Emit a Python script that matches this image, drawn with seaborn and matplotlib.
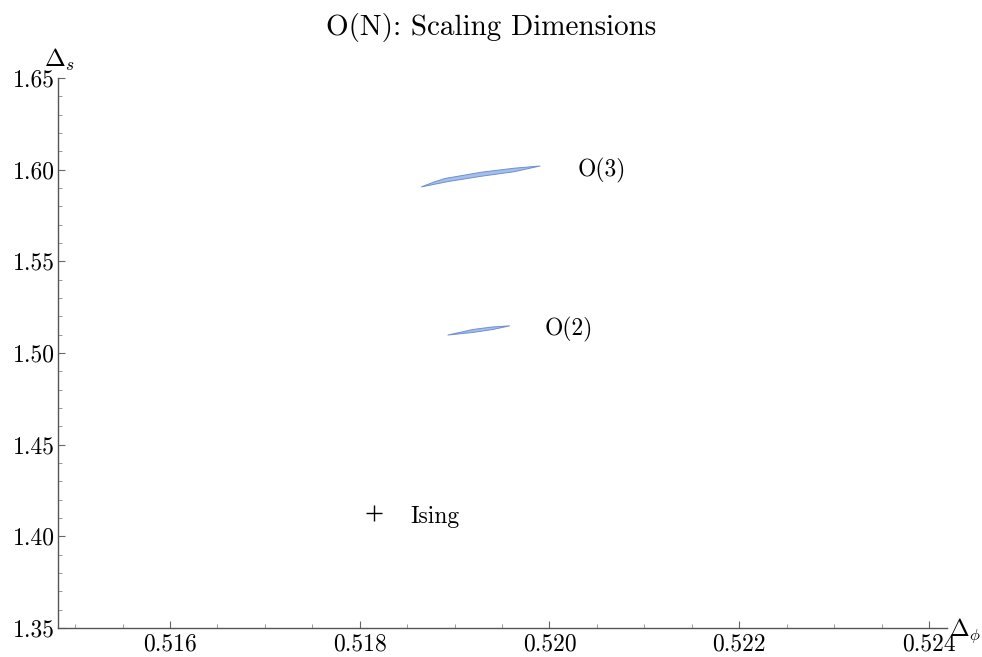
import matplotlib
matplotlib.use("Agg")
import matplotlib.pyplot as plt
import seaborn as sns
import pandas as pd
from matplotlib.ticker import MultipleLocator, FixedLocator, FixedFormatter

# Allowed regions (island outlines) in the (Delta_phi, Delta_s) plane
o3_upper_x = [0.51865, 0.51878, 0.51890, 0.51928, 0.51963, 0.51990]
o3_upper_y = [1.5906, 1.5932, 1.5952, 1.5986, 1.6008, 1.6020]
o3_lower_x = [0.51865, 0.51893, 0.51928, 0.51963, 0.51990]
o3_lower_y = [1.5906, 1.5935, 1.5964, 1.5989, 1.6020]

o2_upper_x = [0.51893, 0.51919, 0.51940, 0.51958]
o2_upper_y = [1.5098, 1.5128, 1.5142, 1.5148]
o2_lower_x = [0.51893, 0.51919, 0.51940, 0.51958]
o2_lower_y = [1.5098, 1.5112, 1.5128, 1.5148]

# Ising point
ising_x = [0.518149]
ising_y = [1.412625]

# Labels
label_names = ["O(3)", "O(2)", "Ising"]
label_x = [0.52030, 0.51995, 0.51853]
label_y = [1.5993, 1.5131, 1.4106]

x_ticks = [0.516, 0.518, 0.520, 0.522, 0.524]
x_tick_labels = ["0.516", "0.518", "0.520", "0.522", "0.524"]
y_ticks = [1.35, 1.40, 1.45, 1.50, 1.55, 1.60, 1.65]
y_tick_labels = ["1.35", "1.40", "1.45", "1.50", "1.55", "1.60", "1.65"]

sns.set_theme(style="ticks")
plt.rcParams["font.family"] = ["cmr10", "DejaVu Serif"]
plt.rcParams["mathtext.fontset"] = "cm"
plt.rcParams["axes.unicode_minus"] = False

fig = plt.figure(figsize=(9.82, 6.57), dpi=100)
W, H = 982, 657
ax = fig.add_axes([58 / W, 1 - 628 / H, (947 - 58) / W, (628 - 78) / H])

fill_c = "#a4bfec"
edge_c = "#6f90cf"

for ux, uy, lx, ly in [
    (o3_upper_x, o3_upper_y, o3_lower_x, o3_lower_y),
    (o2_upper_x, o2_upper_y, o2_lower_x, o2_lower_y),
]:
    px = list(ux) + list(lx[::-1])
    py = list(uy) + list(ly[::-1])
    ax.fill(px, py, facecolor=fill_c, edgecolor=edge_c, linewidth=0.7,
            joinstyle="round", zorder=3)

ising_df = pd.DataFrame({"x": ising_x, "y": ising_y})
sns.scatterplot(data=ising_df, x="x", y="y", marker="+", s=130, color="black",
                linewidth=1.0, ax=ax, zorder=4, legend=False)

for name, tx, ty in zip(label_names, label_x, label_y):
    ax.text(tx, ty, name, ha="left", va="center", fontsize=17, color="black")

ax.set_xlim(0.51482, 0.52419)
ax.set_ylim(1.35, 1.65)

ax.xaxis.set_major_locator(FixedLocator(x_ticks))
ax.xaxis.set_major_formatter(FixedFormatter(x_tick_labels))
ax.xaxis.set_minor_locator(MultipleLocator(0.0005))
ax.yaxis.set_major_locator(FixedLocator(y_ticks))
ax.yaxis.set_major_formatter(FixedFormatter(y_tick_labels))
ax.yaxis.set_minor_locator(MultipleLocator(0.01))

for side in ["top", "right"]:
    ax.spines[side].set_visible(False)
for side in ["left", "bottom"]:
    ax.spines[side].set_color("#555555")
    ax.spines[side].set_linewidth(1.0)

ax.tick_params(which="major", direction="in", length=5, width=0.8, color="#666666",
               labelsize=17, labelcolor="black", pad=2)
ax.tick_params(axis="x", which="major", pad=4)
ax.tick_params(which="minor", direction="in", length=3, width=0.6, color="#888888")

ax.set_xlabel("")
ax.set_ylabel("")

# axis names placed at the ends of the axes
fig.text(949 / W, 1 - 636 / H, r"$\Delta_\phi$", ha="left", va="baseline",
         fontsize=17, color="black")
fig.text(44 / W, 1 - 67 / H, r"$\Delta_s$", ha="left", va="baseline",
         fontsize=18, color="black")

fig.text(0.5, 1 - 28 / H, "O(N): Scaling Dimensions", ha="center", va="center",
         fontsize=21, color="black")

fig.savefig("out.png", dpi=100, facecolor="white")
